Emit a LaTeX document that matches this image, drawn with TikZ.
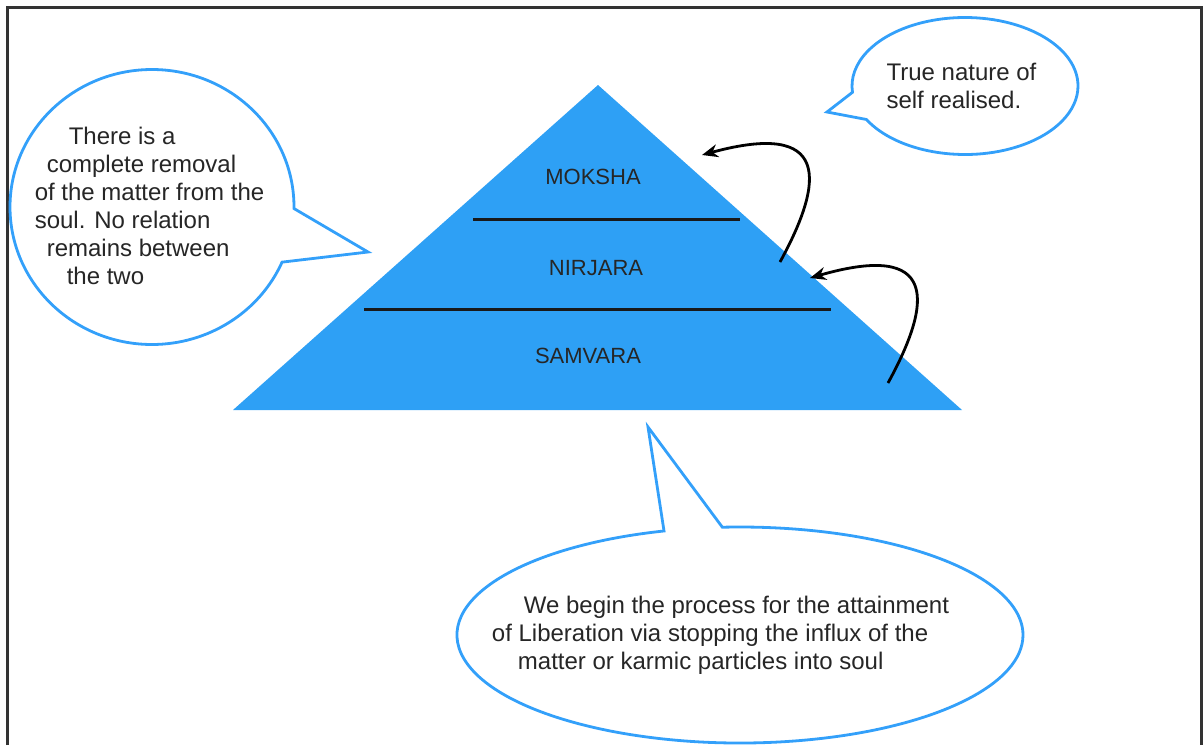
\documentclass[tikz,border=0pt]{standalone}
\usepackage{fontspec}
\setmainfont{Liberation Sans}
\usetikzlibrary{arrows.meta,shapes.callouts}
\definecolor{pyrblue}{RGB}{46,160,245}
\definecolor{bubblue}{RGB}{51,160,250}
\tikzset{
  bubble/.style={ellipse callout, draw=bubblue, line width=2.8pt, fill=white, inner sep=0pt},
  bubtext/.style={text=black!85, font=\fontsize{24}{28}\selectfont, align=left, inner sep=0pt},
  level/.style={text=black!85, font=\fontsize{22}{24}\selectfont, inner sep=0pt},
  sep/.style={line width=3pt, black!90},
  jump/.style={line width=2.8pt, -{Stealth[length=16pt,width=13pt]}},
}

\begin{document}
\begin{tikzpicture}[x=1pt,y=-1pt]
\useasboundingbox (0,0) rectangle (1203,745);

% frame
\draw[line width=3pt, black!80] (7,745) -- (7,7) -- (1201,7) -- (1201,745);

% pyramid
\fill[pyrblue] (233,410) -- (598,85) -- (962,410) -- cycle;
\draw[sep] (473,219) -- (740,219);
\draw[sep] (364,309) -- (831,309);

% levels
\node[level] (moksha) at (593,177) {MOKSHA};
\node[level] (nirjara) at (596,268) {NIRJARA};
\node[level] (samvara) at (588,356) {SAMVARA};

% arrows up the side
\coordinate (s1) at (780,262);
\coordinate (t1) at (702,155);
\coordinate (s2) at (888,383);
\coordinate (t2) at (810,278);
\draw[jump] (s1) .. controls (825,180) and (830,120) .. (t1);
\draw[jump] (s2) .. controls (933,301) and (938,241) .. (t2);

% speech bubbles
\node[bubble, minimum width=284, minimum height=275, callout pointer arc=23,
      callout absolute pointer={(368,252)}] (removal) at (152,207) {};
\node[bubtext, xshift=-2.5pt, yshift=1pt] (removaltxt) at (removal.center)
  {\hspace*{34pt}There is a\\ \hspace*{12pt}complete removal\\ of the matter from the\\
   soul. No relation\\ \hspace*{12pt}remains between\\ \hspace*{32pt}the two};

\node[bubble, minimum width=226, minimum height=137, callout pointer arc=24,
      callout absolute pointer={(827,112)}] (self) at (965,86) {};
\node[bubtext, xshift=-3.5pt] (selftxt) at (self.center) {True nature of\\ self realised.};

\node[bubble, minimum width=566, minimum height=216, callout pointer arc=12,
      callout absolute pointer={(648,427)}] (influx) at (740,635) {};
\node[bubtext, xshift=-19.5pt] (influxtxt) at (influx.center)
  {\hspace*{32pt}We begin the process for the attainment\\ of Liberation via stopping the influx of the\\
   \hspace*{26pt}matter or karmic particles into soul};
\end{tikzpicture}
\end{document}
